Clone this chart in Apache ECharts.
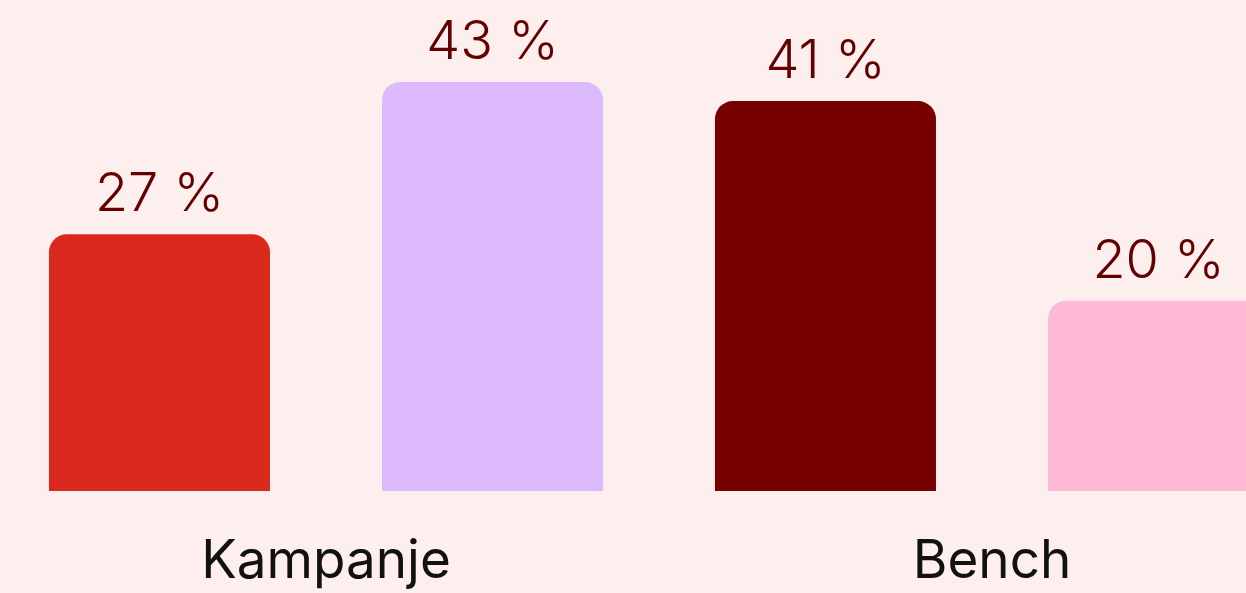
<!DOCTYPE html>
<html>
<head>
<meta charset="utf-8">
<script src="https://cdn.jsdelivr.net/npm/echarts@6/dist/echarts.min.js"></script>
<style>
  html, body { margin: 0; padding: 0; background: #fdefee; overflow: hidden; }
  #chart { width: 1332px; height: 593px; margin-left: -7px; }
</style>
</head>
<body>
<div id="chart"></div>
<script>
// data
var categories = ['Kampanje', 'Bench'];
var firstValues = [27, 41];
var secondValues = [43, 20];
var firstColors = ['#d9291c', '#770000'];
var secondColors = ['#dcbafd', '#fdb9d6'];

var myChart = echarts.init(document.getElementById('chart'));

function makeData(values, colors) {
  return values.map(function (v, i) {
    return { value: v, itemStyle: { color: colors[i] } };
  });
}

var labelStyle = {
  show: true,
  position: 'top',
  distance: 12,
  formatter: '{c} %',
  color: '#650000',
  fontFamily: 'Inter',
  fontWeight: 350,
  fontSize: 54
};

var option = {
  backgroundColor: '#fdefee',
  animation: false,
  grid: { left: 0, right: 0, top: 15.5, bottom: 102 },
  xAxis: {
    type: 'category',
    data: categories,
    axisLine: { show: false },
    axisTick: { show: false },
    axisLabel: {
      color: '#111',
      fontFamily: 'Inter',
      fontSize: 53,
      margin: 45
    }
  },
  yAxis: {
    type: 'value',
    min: 0,
    max: 50,
    show: false,
    splitLine: { show: false }
  },
  series: [
    {
      type: 'bar',
      barWidth: 221,
      barGap: '50.7%',
      data: makeData(firstValues, firstColors),
      itemStyle: { borderRadius: [18, 18, 0, 0] },
      label: labelStyle
    },
    {
      type: 'bar',
      barWidth: 221,
      barGap: '50.7%',
      data: makeData(secondValues, secondColors),
      itemStyle: { borderRadius: [18, 18, 0, 0] },
      label: labelStyle
    }
  ]
};

myChart.setOption(option);
</script>
</body>
</html>
